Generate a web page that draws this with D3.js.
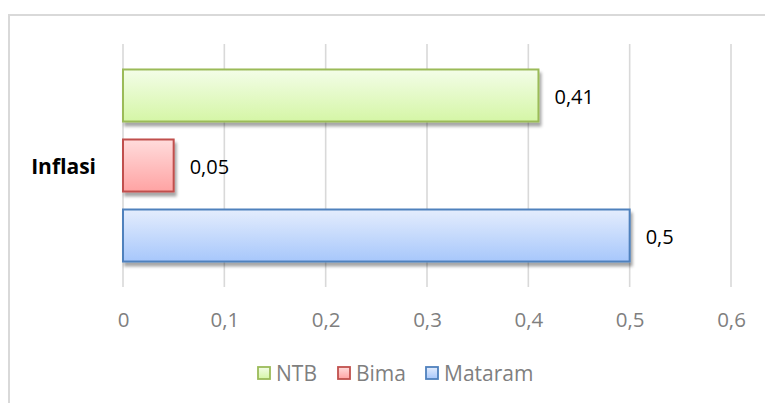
<!DOCTYPE html>
<html><head><meta charset="utf-8">
<script src="https://cdn.jsdelivr.net/npm/d3@7"></script>
<style>
html,body{margin:0;padding:0;background:#fff;}
svg{display:block;}
text{font-family:"Open Sans",sans-serif;}
</style></head>
<body>
<script>
const category = "Inflasi";
const series = ["NTB", "Bima", "Mataram"];
const values = [0.41, 0.05, 0.5];
const valueLabels = ["0,41", "0,05", "0,5"];
const xTicks = [0, 0.1, 0.2, 0.3, 0.4, 0.5, 0.6];
const strokeColors = ["#9bbb59", "#c0504d", "#4f81bd"];
const gradTop = ["#f3fde8", "#ffdcdc", "#e4edfd"];
const gradBottom = ["#d5f6a6", "#ffa3a3", "#a7c7fb"];

const W = 765, H = 403;
const svg = d3.select("body").append("svg").attr("width", W).attr("height", H);
const defs = svg.append("defs");
series.forEach((s, i) => {
  const g = defs.append("linearGradient").attr("id", "g" + i)
    .attr("x1", 0).attr("y1", 0).attr("x2", 0).attr("y2", 1);
  g.append("stop").attr("offset", "0%").attr("stop-color", gradTop[i]);
  g.append("stop").attr("offset", "100%").attr("stop-color", gradBottom[i]);
});
const f = defs.append("filter").attr("id", "shadow").attr("x", "-10%").attr("y", "-20%").attr("width", "130%").attr("height", "160%");
f.append("feDropShadow").attr("dx", 2).attr("dy", 4).attr("stdDeviation", 1.6)
  .attr("flood-color", "#000").attr("flood-opacity", 0.35);

// outer border
svg.append("path").attr("d", "M9,404 L9,15 L766,15")
  .attr("fill", "none").attr("stroke", "#d9d9d9").attr("stroke-width", 2);

const x = d3.scaleLinear().domain([0, 0.6]).range([123, 731]);
const y = d3.scaleBand().domain(series).range([44, 287]).paddingInner(0.257).paddingOuter(0.364);

const loc = d3.formatLocale({decimal: ",", thousands: ".", grouping: [3], currency: ["", ""]});
const fmt = v => v === 0 ? "0" : loc.format(".1f")(v);

// grid
svg.append("g").selectAll("line").data(xTicks).join("line")
  .attr("x1", d => x(d)).attr("x2", d => x(d))
  .attr("y1", 44).attr("y2", 287)
  .attr("stroke", "#d9d9d9").attr("stroke-width", 1.6);

// axis labels
const ax = svg.append("g").attr("transform", "translate(0,287)")
  .call(d3.axisBottom(x).tickValues(xTicks).tickFormat(fmt).tickSize(0).tickPadding(0));
ax.select(".domain").remove();
ax.selectAll("text").attr("y", 40).attr("dy", null)
  .attr("font-size", "20.5px").attr("fill", "#7f7f7f").attr("font-family", "'Open Sans',sans-serif");

// bars
svg.append("g").selectAll("rect").data(series).join("rect")
  .attr("x", x(0)).attr("y", d => y(d))
  .attr("width", (d, i) => x(values[i]) - x(0))
  .attr("height", y.bandwidth())
  .attr("fill", (d, i) => `url(#g${i})`)
  .attr("stroke", (d, i) => strokeColors[i]).attr("stroke-width", 2)
  .attr("filter", "url(#shadow)");

// data labels
svg.append("g").selectAll("text").data(series).join("text")
  .attr("x", (d, i) => x(values[i]) + 16)
  .attr("y", d => y(d) + y.bandwidth() / 2 + 8.5)
  .attr("font-size", "20px").attr("fill", "#000")
  .text((d, i) => valueLabels[i]);

// category label
svg.append("text").attr("x", 96).attr("y", y("Bima") + y.bandwidth() / 2 + 8.5)
  .attr("text-anchor", "end").attr("font-size", "21px").attr("font-weight", "bold")
  .attr("fill", "#000").text(category);

// legend
const legendX = [257, 337, 425];
const lg = svg.append("g").selectAll("g").data(series).join("g")
  .attr("transform", (d, i) => `translate(${legendX[i]},366)`);
lg.append("rect").attr("x", 1).attr("y", 1).attr("width", 12).attr("height", 12)
  .attr("fill", (d, i) => `url(#g${i})`).attr("stroke", (d, i) => strokeColors[i]).attr("stroke-width", 1.8);
lg.append("text").attr("x", 19).attr("y", 14.5)
  .attr("font-size", "21px").attr("fill", "#7f7f7f").text(d => d);
</script>
</body></html>
